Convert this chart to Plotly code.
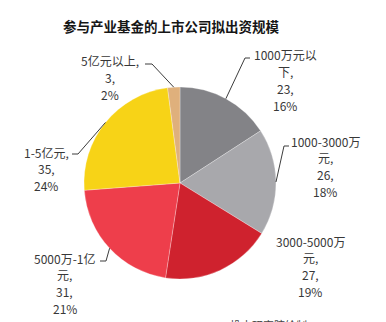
import math
import plotly.graph_objects as go

W, H = 386, 322

# ---- data ----
categories = ["1000万元以下", "1000-3000万元", "3000-5000万元", "5000万-1亿元", "1-5亿元", "5亿元以上"]
values = [23, 26, 27, 31, 35, 3]
colors = ["#838387", "#a8a8ac", "#cf222e", "#ee3e4b", "#f7d317", "#dfb07c"]
# how each category name wraps in its label
name_lines = [["1000万元以", "下,"], ["1000-3000万", "元,"], ["3000-5000万", "元,"],
              ["5000万-1亿", "元,"], ["1-5亿元,"], ["5亿元以上,"]]
title = "参与产业基金的上市公司拟出资规模"
source = "投中研究院绘制，2015.09"

# ---- layout (pixels) ----
CX, CY, R = 180, 183, 96
label_pos = [(285, 55), (325, 141), (310, 241), (64.5, 258), (46, 152), (110, 61)]  # center x, first line y
line_gap = 16.8
elbows = [((245, 58), (250, 58)), ((284, 146), (289, 146)), None,
          ((106, 261), (100, 261)), ((78, 154), (72, 154)), ((152, 64), (145, 64))]


def px(x, y):
    return x / W, 1 - y / H


FONT = "Noto Sans CJK SC"
total = sum(values)

fig = go.Figure(go.Pie(
    labels=categories, values=values, sort=False, direction="clockwise", rotation=0,
    marker=dict(colors=colors, line=dict(color="rgba(255,255,255,0.45)", width=0.6)),
    textinfo="none", hoverinfo="label+value+percent", showlegend=False,
    domain=dict(x=[(CX - R) / W, (CX + R) / W], y=[1 - (CY + R) / H, 1 - (CY - R) / H]),
))

annotations = [dict(text="<b>" + title + "</b>", x=171.5 / W, y=1 - 26 / H, xref="paper", yref="paper",
                    showarrow=False, xanchor="center", yanchor="middle",
                    font=dict(family=FONT, size=13.5, color="#161616"))]
shapes = []
cum = 0
for i, v in enumerate(values):
    pct = round(v / total * 100)
    lines = name_lines[i] + [f"{v},", f"{pct}%"]
    lx, ly = label_pos[i]
    for k, t in enumerate(lines):
        x, y = px(lx, ly + k * line_gap)
        annotations.append(dict(text=t, x=x, y=y, xref="paper", yref="paper", showarrow=False,
                                xanchor="center", yanchor="middle",
                                font=dict(family=FONT, size=12, color="#383838")))
    mid = (cum + v / 2) / total * 2 * math.pi
    cum += v
    if elbows[i] is not None:
        ex, ey = CX + R * math.sin(mid), CY - R * math.cos(mid)
        (bx, by), (tx, ty) = elbows[i]
        p0, p1, p2 = px(ex, ey), px(bx, by), px(tx, ty)
        shapes.append(dict(type="path", xref="paper", yref="paper",
                           path=f"M {p0[0]} {p0[1]} L {p1[0]} {p1[1]} L {p2[0]} {p2[1]}",
                           line=dict(color="#3c3c3c", width=1)))

sx, sy = px(228, 325)
annotations.append(dict(text=source, x=sx, y=sy, xref="paper", yref="paper", showarrow=False,
                        xanchor="left", yanchor="middle", font=dict(family=FONT, size=11, color="#444")))

fig.update_layout(width=W, height=H, margin=dict(l=0, r=0, t=0, b=0),
                  paper_bgcolor="white", plot_bgcolor="white",
                  annotations=annotations, shapes=shapes)
fig.write_html("out.html")
